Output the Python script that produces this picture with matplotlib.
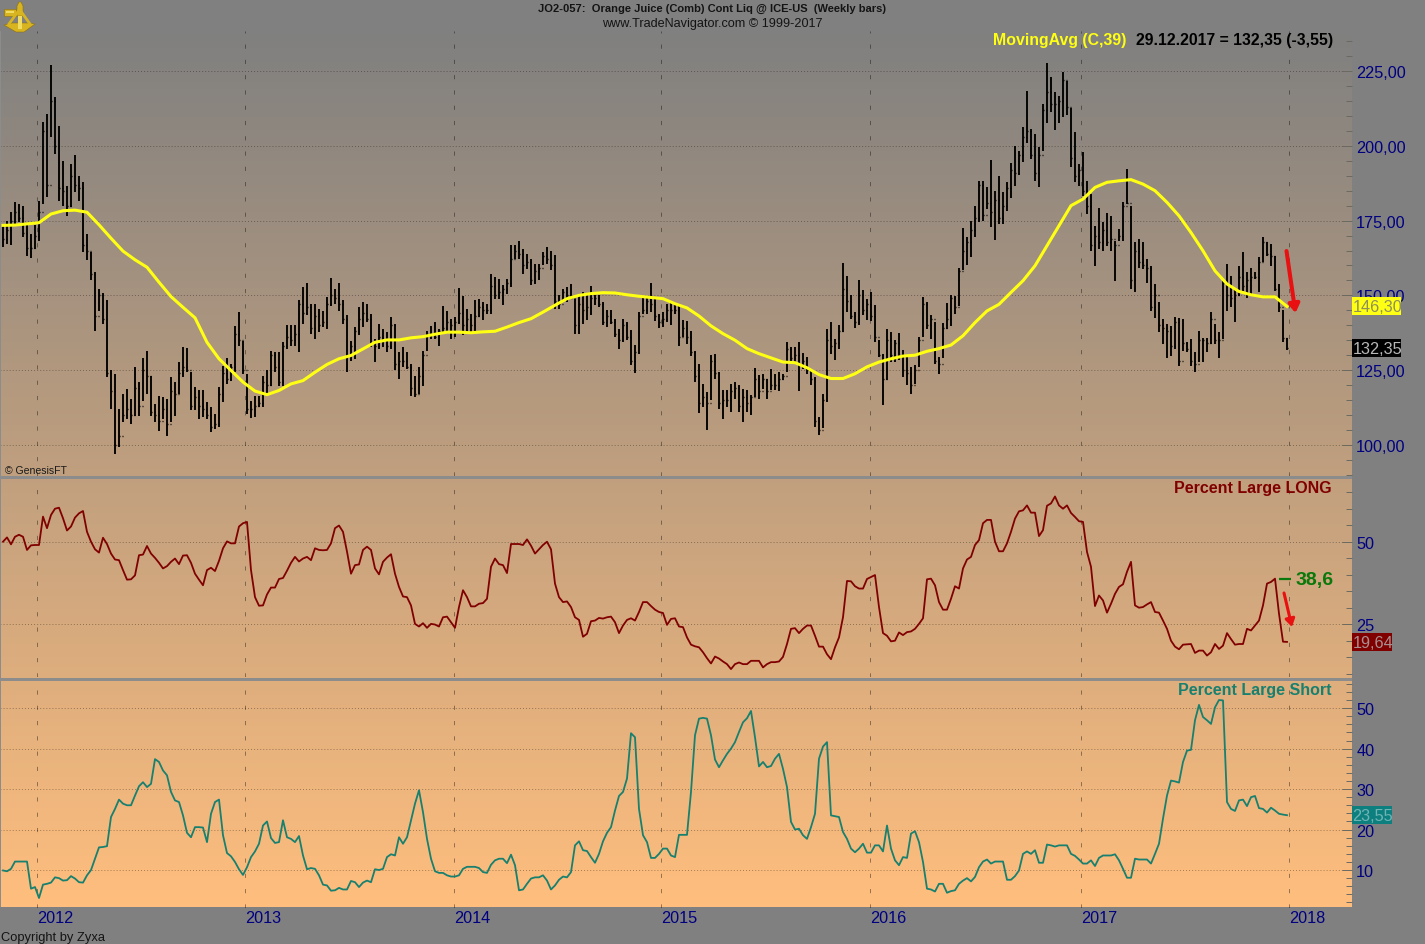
"""
Orange juice weekly bars with 39 week average and large trader long / short percentages.
"""

import numpy as np
import matplotlib
matplotlib.use('Agg')
import matplotlib.pyplot as plt
from matplotlib.patches import Polygon, Rectangle
from matplotlib.ticker import MultipleLocator

plt.rcParams['font.family'] = ['Liberation Sans', 'DejaVu Sans']
plt.rcParams['lines.scale_dashes'] = False

# Weekly bars
highs = [
    173.4, 175, 177.8, 181.2, 180.6, 180, 173.4, 170.6, 173.4, 181.7,
    207.9, 210.7, 227.1, 216.3, 206.6, 194.8, 186.5, 194, 196.8, 190,
    187.8, 170.6, 164.4, 157.7, 152.2, 150.8, 148.3, 124.9, 123.7, 112,
    117, 118.7, 115.4, 126, 121, 129, 131.3, 123.2, 113.7, 116.5,
    116, 115.4, 122.6, 121, 127.6, 132.7, 132.4, 124.3, 119.3, 118.2,
    118.2, 114.3, 112.6, 110.4, 119.3, 126.5, 129, 127, 139.9, 144.4,
    134.9, 123.7, 114.8, 116.5, 116.5, 123.2, 124.9, 131.5, 131, 131,
    134.3, 140.1, 140.1, 140.1, 148.3, 152.7, 154.2, 147.2, 147.2, 145.5,
    144.9, 149.4, 155.7, 152.2, 154.1, 148.3, 143.3, 134.9, 139.4, 146,
    147.7, 147.2, 143.8, 135.5, 140.5, 138.8, 137.7, 142.7, 140.5, 131,
    132.7, 131, 127, 123.2, 126, 131.5, 138.2, 139.9, 141, 138.8,
    146.6, 144.9, 142.1, 142.7, 152.4, 149.9, 145.5, 143.8, 148.3, 148.8,
    147.8, 147.2, 157.2, 156.1, 155.6, 153.3, 155.6, 166.9, 166.7, 168.2,
    165.6, 163.9, 162.2, 160.6, 160.6, 164.5, 166.1, 165, 163.4, 150,
    152.2, 152.8, 153.9, 148.9, 150, 151.1, 150, 153.1, 150, 150,
    147.8, 145, 145, 142.2, 138.9, 142.2, 141.1, 138.3, 133.3, 144.4,
    149.4, 149.4, 154.1, 149.4, 143.9, 144.4, 147.2, 147.8, 146.7, 146.7,
    141.6, 141.3, 138, 131.3, 127.2, 120.5, 117.7, 130.2, 130.5, 124.4,
    118.3, 118.3, 120.5, 121, 119.9, 118.8, 118.3, 116.6, 125.7, 123.3,
    123.8, 122.2, 125.5, 123.8, 124.4, 123.8, 134.4, 132.7, 132.7, 134.4,
    130.8, 129.4, 125.5, 122.7, 109.4, 117.1, 138.9, 141.1, 135.5, 140,
    160.8, 156.5, 150.2, 144.4, 155, 151.7, 148.9, 151.1, 146.7, 135,
    130.5, 138.9, 137.8, 135, 137.5, 131.6, 130, 126.1, 126.6, 136.1,
    149.4, 147.8, 143.3, 141.1, 129.4,
    140.9, 147.4, 150.2, 149.9, 159.3, 172.4, 169.4, 174.9, 180, 188.3,
    188.3, 186.1, 195.3, 185, 189.8, 184.4, 188, 194.1, 199.8, 198.4,
    206.2, 218.2, 205.6, 203.9, 199.5, 214, 227.7, 222.9, 217.9, 216.7,
    224.6, 221.8, 212.5, 204.5, 193.9, 197.8, 188.3, 183.9, 173.3, 179.1,
    174.4, 177.7, 176.6, 168.3, 172.2, 181.3, 192.2, 180, 167.7, 168.8,
    167.9, 162.1, 159.7, 153.8, 147.9, 142.1, 140.4, 139.8, 142.6, 142.3,
    142.1, 134.3, 135.4, 131.1, 138.2, 135.9, 135.9, 144.5, 140.4, 137.6,
    154.9, 160.5, 156.5, 152.1, 159.7, 164.6, 157.7, 159, 157.7, 162.7,
    169.4, 167.7, 167.1, 163.2, 153.8, 145.2, 135.6,
]
lows = [
    166.1, 167.2, 167, 173.4, 174.5, 169.5, 163.3, 162.4, 165.5, 168.3,
    180.6, 182.8, 202.9, 197.3, 181.7, 180, 176.7, 179.5, 184.5, 181.7,
    164.4, 161.7, 155, 138.2, 144.9, 140.5, 122.6, 112, 97, 99.2,
    107.6, 108.7, 107, 109.8, 109.8, 114.8, 117, 109.8, 107.8, 104.8,
    108.7, 103.1, 107.6, 109.8, 117, 122.6, 124.3, 111.8, 111.8, 108.7,
    109.3, 108.5, 104.2, 105.4, 105.9, 114.3, 120.4, 121.5, 124.5, 133.2,
    123.7, 110.4, 108.9, 109.3, 112.6, 112.6, 117, 119.8, 124.3, 119.8,
    119.8, 132.1, 133.2, 133.2, 131, 140.5, 143.3, 137.1, 135.5, 137.7,
    139.4, 138.8, 146.6, 147.2, 144.9, 140.5, 124.5, 128.2, 128.8, 136.6,
    139.4, 141, 132.7, 127.6, 132.1, 132.7, 131, 132.1, 124.9, 122.1,
    126, 125.4, 116.5, 115.9, 117, 119.8, 131.5, 135.5, 135.5, 133.2,
    137.1, 137.7, 135.5, 136, 140.5, 136.6, 137.7, 137.7, 138.2, 142.7,
    141.6, 143.9, 143.9, 148.9, 148.9, 146.7, 150.6, 152.8, 162.2, 162.2,
    157.2, 158.9, 153.3, 153.9, 155, 160, 160.6, 158.4, 145.5, 145.5,
    147.8, 147.8, 148.9, 137.2, 137.2, 140.5, 141.6, 143.3, 146.7, 146.1,
    140, 139.4, 140.5, 136.1, 132.2, 134.4, 135, 126.6, 124.2, 130.5,
    143.9, 143.9, 144.4, 141.3, 139.1, 139.4, 141.1, 140, 143.9, 133.1,
    136.1, 133.9, 129.7, 121, 110.5, 112.7, 104.9, 114.9, 122.2, 112.1,
    108.8, 112.7, 111, 115.5, 111, 107.7, 111, 110.1, 116, 115.5,
    118.8, 115.5, 118.3, 118.3, 117.9, 121.6, 124.4, 127.7, 127.7, 117.9,
    125.5, 123.8, 119.9, 106, 103.2, 105.5, 114.4, 130.5, 128.3, 132.2,
    137.8, 144.4, 142, 139.1, 140, 143.3, 141.6, 141.3, 134.4, 129.4,
    113.3, 121.6, 127.7, 127.7, 128.3, 122.7, 119.9, 117.1, 120.5, 126.1,
    136.1, 138.9, 135.5, 127.2, 123.8,
    129.2, 138.7, 139.6, 143.7, 146.5, 158.6, 160.1, 162.7, 169.4, 174.6,
    174.9, 178.8, 172.7, 168.6, 173.8, 173.8, 178.3, 182.7, 186.6, 190.2,
    194.7, 201.1, 195.6, 188.3, 186.4, 198.4, 207.8, 211.2, 205.4, 207.8,
    209.8, 210.3, 192.8, 187.8, 186.6, 183.3, 177.2, 164.9, 159.9, 165.5,
    164.9, 166.6, 164.9, 154.9, 168.3, 168.3, 180.5, 152.1, 151, 159.3,
    158.8, 154.1, 144.8, 142.3, 137.6, 133.7, 129.2, 129.8, 132, 126.4,
    131.5, 130.9, 126.4, 124.4, 127.6, 127.8, 130.9, 133.7, 133.7, 129.2,
    135.4, 144.8, 146, 141.2, 149.9, 151.5, 149, 150.4, 155.4, 151,
    161, 163.2, 159.7, 151.5, 144.3, 134.5, 131.8,
]
closes = [
    169, 172, 175, 178, 176, 171, 166, 166, 170, 178,
    205, 187, 215, 200, 186, 185, 180, 190, 187, 186,
    167, 165, 157, 143, 150, 142, 124, 118, 100, 103,
    110, 112, 110, 119, 113, 125, 123, 111, 110, 108,
    112, 107, 118, 117, 124, 126, 125, 113, 116, 113,
    112, 110, 106, 107, 117, 124, 122, 126, 137, 135,
    125, 112, 112, 113, 114, 121, 120, 130, 126, 121,
    133, 136, 135, 137, 147, 144, 146, 139, 143, 140,
    141, 147, 150, 149, 147, 142, 130, 133, 138, 142,
    144, 142, 134, 133, 136, 135, 133, 140, 127, 128,
    128, 126, 119, 117, 123, 130, 137, 137, 136, 138,
    139, 141, 140, 141, 144, 140, 142, 140, 143, 146,
    145, 145, 153, 150, 151, 152, 154, 162, 165, 164,
    160, 161, 155, 158, 159, 163, 162, 160, 148, 147,
    151, 150, 149, 140, 147, 145, 146, 149, 149, 147,
    141, 143, 141, 137, 135, 140, 136, 128, 131, 143,
    145, 148, 147, 143, 141, 142, 145, 145, 145, 136,
    139, 136, 131, 123, 114, 116, 114, 128, 124, 114,
    115, 115, 118, 119, 113, 116, 114, 116, 122, 118,
    122, 118, 120, 120, 122, 123, 132, 129, 130, 127,
    128, 125, 122, 108, 105, 115, 135, 133, 134, 138,
    152, 148, 143, 141, 150, 145, 147, 143, 136, 130,
    122, 135, 130, 134, 130, 125, 124, 120, 125, 135,
    147, 140, 142, 128, 127,
    139, 142, 149, 146, 158, 165, 168, 172, 176, 187,
    177, 181, 178, 182, 176, 180, 186, 192, 191, 197,
    203, 205, 197, 191, 197, 212, 218, 214, 214, 215,
    222, 213, 196, 190, 192, 185, 180, 167, 170, 168,
    172, 168, 169, 167, 170, 180, 181, 155, 165, 161,
    160, 159, 146, 150, 140, 139, 138, 133, 141, 128,
    134, 132, 128, 127, 135, 135, 134, 142, 135, 135,
    154, 150, 149, 150, 156, 153, 155, 156, 156, 161,
    168, 164, 163, 152, 146, 135.9, 132.35,
]

# 39 week average, read every third bar
ma_39 = [
    173.4, 173.5, 173.9, 174.3, 177.2, 178.3, 178.5, 177.8, 173.6, 169.1,
    164.8, 161.9, 159.4, 154.4, 149.6, 146, 142.5, 134.3, 128.8, 124.9,
    121, 118, 116.8, 118.2, 120.4, 121.5, 124.3, 126.9, 128.8, 129.9,
    132.1, 134.3, 135.1, 135.1, 135.8, 136.2, 137, 137.7, 137.7, 137.5,
    137.8, 138, 139.4, 140.9, 142.2, 144.4, 146.7, 148.9, 150, 150.6,
    150.9, 150.8, 150.2, 149.7, 149.3, 148.9, 147.2, 145.8, 143.1, 139.8,
    137.2, 135, 132.2, 130.5, 129.1, 127.7, 127.5, 125.8, 123.5, 122.2,
    122.2, 123.8, 126.1, 127.7, 128.8, 129.7, 130, 131.3, 132.2,
    133.4, 136.5, 140.9, 144.8, 147, 151, 154.9, 159.9, 166.6, 173.3,
    180, 182.2, 186.1, 187.8, 188.3, 188.7, 187.2, 185, 181.1, 176.6,
    171, 164.9, 158.2, 153.8, 151.3, 150.2, 149.5, 149.5, 146.3,
]

pct_long = [
    50, 51.3, 49.2, 51.5, 52.1, 51.5, 47.5, 48.9, 49, 49,
    57.6, 54.1, 58.1, 60, 60.3, 57.1, 53.4, 54.6, 57.3, 58.6,
    59.3, 53, 50, 47.7, 46.7, 51.2, 49.3, 46.4, 44.6, 44.4,
    41.4, 38.5, 38.6, 39.8, 45.9, 46.1, 48.7, 46.4, 45.1, 43.6,
    41.9, 42.6, 43.9, 44.9, 43.2, 45.8, 45.9, 43.6, 40.3, 38.5,
    36.8, 41.4, 42.1, 41.1, 44.2, 48, 50.1, 49.5, 49.5, 54.6,
    55.6, 56, 41.4, 33.2, 30.6, 30.7, 34, 36.1, 36.1, 38.7,
    39, 41.2, 43.6, 45.4, 44, 44.9, 45.4, 44.4, 48, 47.5,
    47.4, 47.5, 49.5, 54.1, 54.9, 53, 47, 40.3, 42.9, 43.1,
    47.5, 48.5, 47.5, 41.9, 40.1, 43.9, 45.2, 46.2, 40.3, 36.3,
    33.4, 33.2, 30.7, 25.1, 24.3, 25.3, 23.9, 25.1, 24.9, 24.3,
    27.1, 27.3, 25.6, 23.9, 30.2, 35.3, 33.2, 30.4, 30.4, 31.2,
    31.4, 32.7, 42.4, 44.9, 43.2, 42.9, 40.5, 49.3, 49.3, 49.3,
    49, 50.7, 48.8, 46.4, 47.7, 49, 50, 47.7, 37.3, 33.2,
    31.7, 31.9, 30.2, 27.1, 26.3, 21.2, 22.1, 25.9, 26.1, 26.9,
    26.7, 27.1, 27.3, 25.6, 22.3, 24.6, 26.3, 26.8, 26.1, 28.7,
    31.7, 31.7, 30.5, 29.4, 28.7, 28.4, 24.8, 26.6, 26.8, 24.3,
    24.1, 21, 18.8, 18.3, 18, 16.5, 14.7, 13.1, 15.2, 14.6,
    13.7, 12.9, 11.4, 12.9, 13.4, 12.9, 12.9, 13.9, 13.9, 13.9,
    11.9, 12.9, 13.5, 13.5, 13.7, 15.1, 19, 23.6, 23.8, 22.3,
    23.6, 24.6, 24.6, 21.5, 18.2, 18.2, 15.9, 14.4, 18, 21,
    27.1, 38.1, 38, 36.5, 35.8, 35.8, 38.7, 39.3, 39.9, 30.2,
    22.3, 21.5, 19.8, 20, 22.5, 21.7, 22.6, 22.8, 23.6, 25.1,
    26.8, 38.6, 38.8, 36.8, 31.7, 29.4, 29.4, 32.7, 36.5, 35.8,
    41.9, 44.6, 45.4, 49, 50.5, 55.6, 56.6, 56.6, 50, 47.1,
    47.1, 49.5, 53, 57, 59.2, 59.5, 61, 58.8, 58.8, 51.7,
    53.5, 60.9, 61.6, 63.7, 61, 60, 61, 58.7, 57.5, 56.2,
    56, 46.9, 42.4, 30.5, 33.7, 32.2, 28.5, 31.2, 34.2, 36.3,
    37.1, 40.9, 43.9, 30.7, 30, 30.2, 31, 31.7, 28.7, 28.5,
    26.1, 23.6, 20, 18.2, 17.4, 18.8, 18.9, 19, 16.3, 17,
    17, 15.5, 16.5, 19, 17.5, 18.5, 22.3, 20.5, 18.8, 19,
    19, 23.6, 23.1, 24.6, 26.1, 30.7, 37.3, 37.8, 38.8, 28.2,
    19.7, 19.64,
]

pct_short = [
    9.9, 9.7, 10.3, 12.1, 12.1, 12.1, 12.1, 5.4, 5.8, 3.1,
    6.4, 6.6, 6.9, 8.2, 8, 7.4, 7.5, 8.5, 7.9, 7,
    6.9, 8.7, 10, 12.8, 15.6, 15.7, 15.9, 23.1, 25.1, 27.4,
    26.4, 26, 26, 28.4, 30.7, 31.7, 30.5, 31.3, 37.4, 36.7,
    34.6, 33.4, 29.3, 27.2, 26.8, 23.5, 19.2, 18.1, 20.6, 20.6,
    20.5, 16.9, 23.9, 26.8, 27.4, 18.6, 14.2, 13.4, 12, 10.2,
    8.8, 10.7, 13.2, 14.6, 16.5, 21, 22, 17.9, 16.7, 16.9,
    22.3, 18.1, 17.7, 16.9, 18.4, 13.6, 10.2, 10.5, 10.3, 8.7,
    6.4, 6.2, 4.9, 5, 5.6, 5.2, 5.2, 7.3, 7, 5.8,
    6.9, 7.4, 7, 10.2, 10, 10.3, 13.2, 13.9, 13.6, 18.1,
    16.5, 18.1, 22.3, 26.4, 29.7, 24.3, 17.7, 12.8, 9.7, 9.3,
    9.3, 8.7, 8.4, 8.4, 8.7, 10.3, 10.8, 10.8, 10.8, 10.5,
    9.5, 9.3, 11.3, 12.4, 12.8, 12.8, 11.7, 13.8, 11.2, 5,
    5.2, 6.6, 7.9, 8.2, 8.2, 8.7, 7.4, 5.2, 6.2, 7.6,
    8.4, 8.2, 9.5, 16.1, 17.1, 14.9, 14.7, 13.2, 11.8, 14,
    17.1, 19.2, 20.6, 24.7, 28.3, 29.3, 32.6, 43.8, 42.8, 25.1,
    18.6, 16.9, 13, 13, 14, 15.3, 15.3, 13.6, 13.2, 18.7,
    18.7, 18.7, 29.3, 43.3, 47.4, 47.6, 47.4, 43.3, 37.3, 35.4,
    37.1, 38.7, 40, 41.6, 44.1, 46.5, 47.5, 49.3, 42.8, 35.6,
    36.7, 35.4, 35.7, 37.5, 38.7, 35, 30.5, 21.9, 20, 20.2,
    18.6, 17.7, 20.6, 23.9, 37.5, 40.5, 41.6, 23.5, 23.3, 23.1,
    19.4, 17.7, 15.3, 14.4, 15.3, 16.5, 14.3, 14.3, 16.1, 16.1,
    14.6, 21, 15.3, 12.4, 11.2, 13.2, 13, 19, 19.6, 16.9,
    12, 5.4, 5.2, 4.7, 6.6, 6.6, 4.4, 4.8, 5, 6.6,
    7.4, 8, 7.2, 8.3, 10.7, 12.1, 12.6, 11.6, 12.1, 12.1,
    12.1, 7.6, 7.6, 8.5, 9.9, 14, 14.6, 14, 14.9, 11.8,
    11.8, 16.3, 16.1, 15.8, 16.1, 16.1, 16.1, 14, 13.5, 12.6,
    11.6, 11.6, 12.4, 11, 13, 13.6, 13.6, 13.6, 13.9, 12.4,
    10.3, 8.1, 8.1, 12.8, 12.6, 12.6, 12.6, 11.6, 14, 16.5,
    22.7, 28.4, 32.1, 31.9, 31.6, 36.7, 39.5, 39.7, 47, 50.8,
    47.8, 47, 46.1, 50.2, 52, 51.9, 26.8, 25.1, 24.6, 27.2,
    27.4, 25.8, 28, 28.3, 25.3, 25.1, 24.2, 25.4, 24.7, 23.9,
    23.7, 23.55,
]

# Year marks sit between bars, given in bar numbers
year_pos = [8.6, 60.6, 112.75, 164.6, 216.75, 269.5, 321.6]
year_labels = ['2012', '2013', '2014', '2015', '2016', '2017', '2018']

price_ticks = [100, 125, 150, 175, 200, 225]
price_labels = ['100,00', '125,00', '150,00', '175,00', '200,00', '225,00']
long_ticks = [25, 50]
short_ticks = [10, 20, 30, 40, 50]

W, H = 1425, 945
NAVY = '#000080'
DARK_RED = '#800000'
TEAL = '#17806f'
FRAME = '#808080'
YELLOW = '#ffff14'


def panel(top, bottom, ylim):
    # panel placed by pixel rows, all panels run from the left edge to x=1352
    ax = fig.add_axes([0, 1 - bottom / H, 1352 / W, (bottom - top) / H])
    ax.patch.set_visible(False)
    for s in ax.spines.values():
        s.set_visible(False)
    ax.set_xlim(-0.75, 337.25)
    ax.set_ylim(*ylim)
    ax.yaxis.tick_right()
    ax.tick_params(axis='y', which='major', direction='in', length=7, width=0.7,
                   color='#6a6a62', labelcolor=NAVY, labelsize=11.7, pad=3)
    ax.tick_params(axis='y', which='minor', direction='in', length=4.5, width=0.7,
                   color='#6a6a62')
    ax.set_xticks(year_pos)
    ax.tick_params(axis='x', length=0, labelbottom=False)
    ax.grid(True, axis='y', color='black', alpha=0.4, lw=0.6, ls=(0, (0.7, 1.5)))
    ax.grid(True, axis='x', color='black', alpha=0.4, lw=0.7, ls=(0, (3, 8)))
    ax.set_axisbelow(True)
    return ax


def value_box(ax, value, text, width, bg, fg):
    # last value tag on the scale, placed at the row of its value
    row = H - ax.transData.transform((0, value))[1]
    top.add_patch(Rectangle((1352, row - 9), width, 18, fc=bg, ec='none', zorder=5))
    top.text(1352.5, row + 0.5, text, ha='left', va='center', color=fg, fontsize=11.7, zorder=6)


fig = plt.figure(figsize=(W / 100, H / 100), dpi=100, facecolor=FRAME)

# Background runs grey to orange through all three panels
bg = fig.add_axes([0, 1 - 908 / H, 1352 / W, (908 - 32) / H])
ramp = np.linspace(0, 1, 256)[:, None, None]
colours = (np.array([128, 128, 128]) + ramp * (np.array([255, 190, 125]) - np.array([128, 128, 128]))) / 255
bg.imshow(colours, aspect='auto')
bg.axis('off')

bars = np.arange(len(highs))

# Price panel
ax1 = panel(32, 477, (89.6, 238.4))
ax1.set_yticks(price_ticks, price_labels)
ax1.yaxis.set_minor_locator(MultipleLocator(5))
ax1.vlines(bars, lows, highs, color='black', lw=1.35, zorder=3)
ax1.hlines(closes, bars, bars + 0.35, color='black', lw=1.0, zorder=3)
ax1.hlines(closes[:-1], bars[1:] - 0.35, bars[1:], color='black', lw=1.0, zorder=3)
ax1.plot(np.arange(len(ma_39)) * 3, ma_39, color=YELLOW, lw=2.2, zorder=4,
         solid_joinstyle='round')

# Long panel
ax2 = panel(480, 678, (9, 69))
ax2.set_yticks(long_ticks, ['25', '50'])
ax2.yaxis.set_minor_locator(MultipleLocator(5))
ax2.plot(bars, pct_long, color=DARK_RED, lw=1.3, zorder=3)

# Short panel
ax3 = panel(682, 908.5, (0.75, 56.7))
ax3.set_yticks(short_ticks, [str(v) for v in short_ticks])
ax3.yaxis.set_minor_locator(MultipleLocator(2))
ax3.plot(bars, pct_short, color=TEAL, lw=1.3, zorder=3)

# Years under the last panel
ax3.tick_params(axis='x', labelbottom=True, labelcolor=NAVY, labelsize=11.7, pad=2)
ax3.set_xticklabels(year_labels, ha='left')

# Everything else goes on a pixel overlay
top = fig.add_axes([0, 0, 1, 1])
top.set_xlim(0, W)
top.set_ylim(H, 0)
top.axis('off')
top.patch.set_visible(False)

value_box(ax1, ma_39[-1], '146,30', 49, YELLOW, '#8f8f5c')
value_box(ax1, closes[-1], '132,35', 49, 'black', '#b8b8b8')
value_box(ax2, pct_long[-1], '19,64', 40, DARK_RED, '#a89090')
value_box(ax3, pct_short[-1], '23,55', 40, '#0e7f7f', '#6fb4b4')

top.add_patch(Rectangle((0, 477), 1352, 3, fc='#8c8c8c', ec='none'))
top.add_patch(Rectangle((0, 679), 1352, 3, fc='#8c8c8c', ec='none'))
top.add_patch(Rectangle((0, 32), 1, 876, fc='#8c8c8c', ec='none'))

top.text(712, 8.5, 'JO2-057:  Orange Juice (Comb) Cont Liq @ ICE-US  (Weekly bars)',
         ha='center', va='center', fontsize=8, fontweight='bold', color='#141414')
top.text(712.5, 24.5, 'www.TradeNavigator.com © 1999-2017', ha='center', va='center',
         fontsize=9.1, color='#141414')
top.text(993, 40, 'MovingAvg (C,39)', ha='left', va='center', fontsize=11.4,
         fontweight='bold', color=YELLOW)
top.text(1136, 40, '29.12.2017 = 132,35 (-3,55)', ha='left', va='center', fontsize=11.35,
         fontweight='bold', color='black')
top.text(1332, 488, 'Percent Large LONG', ha='right', va='center', fontsize=11.5,
         fontweight='bold', color=DARK_RED)
top.text(1332, 690, 'Percent Large Short', ha='right', va='center', fontsize=11.5,
         fontweight='bold', color=TEAL)
top.text(5, 471, '© GenesisFT', ha='left', va='center', fontsize=7.6, color='#1a1a1a')
top.text(1, 937.5, 'Copyright by Zyxa', ha='left', va='center', fontsize=9.3, color='#141414')

# Green marker next to the long line
top.plot([1279, 1291], [580, 580], color='#0a780a', lw=1.6, solid_capstyle='butt')
top.text(1296, 581, '38,6', ha='left', va='center', fontsize=14, fontweight='bold', color='#0a780a')

# Red arrows
top.annotate('', xy=(1295.5, 314), xytext=(1286.5, 252),
             arrowprops=dict(arrowstyle='-|>,head_length=0.5,head_width=0.32', color='#e81010', lw=2.9,
                             shrinkA=0, shrinkB=0))
top.annotate('', xy=(1292, 628), xytext=(1284, 594),
             arrowprops=dict(arrowstyle='-|>,head_length=0.45,head_width=0.28', color='#e81010', lw=2.2,
                             shrinkA=0, shrinkB=0))

# Gold sextant logo
gold, pale, dark = '#d8b420', '#f0dc60', '#8a7010'
top.add_patch(Polygon([(4, 26), (12, 24), (28, 24), (35, 25), (24, 33), (16, 33)], fc=gold, ec=dark, lw=0.4))
top.plot([19, 9], [11, 25], color=gold, lw=2)
top.plot([20, 30], [11, 25], color=gold, lw=2)
top.add_patch(Rectangle((4, 10), 12, 7, fc=gold, ec=dark, lw=0.4))
top.add_patch(Rectangle((6, 11.5), 8, 2, fc=pale, ec='none'))
top.add_patch(Polygon([(17, 17), (17, 7), (19, 3), (21, 3), (23, 7), (23, 17)], fc=gold, ec=dark, lw=0.4))
top.add_patch(Polygon([(18, 17), (22, 17), (22, 30), (18, 30)], fc=pale, ec='none'))

fig.savefig('out.png', dpi=100, facecolor=FRAME)
